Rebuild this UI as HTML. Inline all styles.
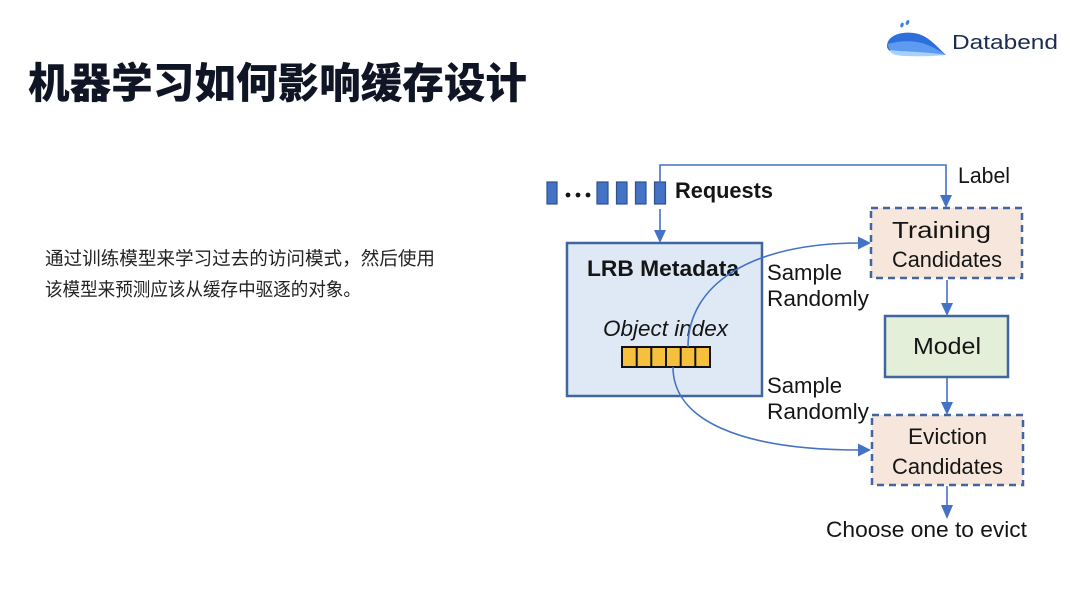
<!DOCTYPE html>
<html>
<head>
<meta charset="utf-8">
<style>
  html, body { margin: 0; padding: 0; background: #ffffff; }
  body { width: 1080px; height: 597px; overflow: hidden; }
  svg { display: block; }
  .d { font-family: "Liberation Sans", Arial, sans-serif; font-size: 22px; fill: #151515; }
</style>
</head>
<body>
<svg width="1080" height="597" viewBox="0 0 1080 597" xmlns="http://www.w3.org/2000/svg">
  <rect x="0" y="0" width="1080" height="597" fill="#ffffff"/>

  <!-- Title -->
  <text x="28" y="98" textLength="499" lengthAdjust="spacingAndGlyphs"
        style="font-family:'Liberation Sans','Noto Sans CJK SC',sans-serif;font-size:42px;font-weight:900;fill:#0f1524;">机器学习如何影响缓存设计</text>

  <!-- Body text -->
  <text x="45" y="265" textLength="390" lengthAdjust="spacingAndGlyphs"
        style="font-family:'Liberation Sans','Noto Sans CJK SC',sans-serif;font-size:18.5px;fill:#222222;">通过训练模型来学习过去的访问模式，然后使用</text>
  <text x="45" y="296" textLength="316" lengthAdjust="spacingAndGlyphs"
        style="font-family:'Liberation Sans','Noto Sans CJK SC',sans-serif;font-size:18.5px;fill:#222222;">该模型来预测应该从缓存中驱逐的对象。</text>

  <!-- Logo -->
  <g>
    <ellipse cx="902" cy="25" rx="1.6" ry="2.4" fill="#3d7fe0" transform="rotate(20 902 25)"/>
    <ellipse cx="907.5" cy="22.5" rx="1.6" ry="2.6" fill="#3d7fe0" transform="rotate(25 907.5 22.5)"/>
    <path d="M887,46 C887,36 900,31 914,33 C928,35 936,46 946,55 C930,54 914,55 899,54 C891,53 887,50 887,46 Z" fill="#2f6fdc"/>
    <path d="M888,44 C898,41 910,40 922,43 C932,46 940,51 946,55 C930,54 913,55 899,54 C891,53 888,49 888,44 Z" fill="#5d9bf0"/>
    <path d="M890,50 C902,52 922,51 946,55 C930,56.5 906,57 896,55 C892,54 890,52 890,50 Z" fill="#a9d0fa"/>
    <text x="952" y="49" textLength="106" lengthAdjust="spacingAndGlyphs"
          style="font-family:'Liberation Sans',Arial,sans-serif;font-size:20px;font-weight:normal;fill:#1c2b50;">Databend</text>
  </g>

  <!-- Requests -->
  <g fill="#4472c4" stroke="#2f528f" stroke-width="1.2">
    <rect x="547" y="182" width="10" height="22"/>
    <rect x="597" y="182" width="11" height="22"/>
    <rect x="616.5" y="182" width="10.5" height="22"/>
    <rect x="635.5" y="182" width="10.5" height="22"/>
    <rect x="654.5" y="182" width="11" height="22"/>
  </g>
  <g fill="#151515">
    <circle cx="568" cy="195" r="2.4"/>
    <circle cx="578" cy="195" r="2.4"/>
    <circle cx="588" cy="195" r="2.4"/>
  </g>
  <text class="d" x="675" y="198" textLength="98" lengthAdjust="spacingAndGlyphs" style="font-weight:bold;">Requests</text>

  <!-- LRB Metadata box -->
  <rect x="567" y="243" width="195" height="153" fill="#dee9f5" stroke="#41659e" stroke-width="2.5"/>
  <text class="d" x="587" y="276" textLength="152" lengthAdjust="spacingAndGlyphs" style="font-weight:bold;">LRB Metadata</text>
  <text class="d" x="603" y="336" textLength="125" lengthAdjust="spacingAndGlyphs" style="font-style:italic;">Object index</text>
  <rect x="622" y="347" width="88" height="20" fill="#f6c03c" stroke="#111" stroke-width="2"/>
  <g stroke="#111" stroke-width="2">
    <line x1="636.7" y1="347" x2="636.7" y2="367"/>
    <line x1="651.3" y1="347" x2="651.3" y2="367"/>
    <line x1="666" y1="347" x2="666" y2="367"/>
    <line x1="680.7" y1="347" x2="680.7" y2="367"/>
    <line x1="695.3" y1="347" x2="695.3" y2="367"/>
  </g>

  <!-- Connectors -->
  <g stroke="#4472c4" stroke-width="1.6" fill="none">
    <polyline points="660,182 660,165 946,165 946,197"/>
    <line x1="660" y1="209" x2="660" y2="232"/>
    <line x1="947" y1="280" x2="947" y2="305"/>
    <line x1="947" y1="378" x2="947" y2="404"/>
    <line x1="947" y1="486" x2="947" y2="507"/>
    <path d="M688,347 C688,285 750,243 860,243"/>
    <path d="M673,367 C673,420 740,450 860,450"/>
  </g>
  <g fill="#4472c4">
    <polygon points="940,195 952,195 946,208"/>
    <polygon points="654,230 666,230 660,243"/>
    <polygon points="941,303 953,303 947,316"/>
    <polygon points="941,402 953,402 947,415"/>
    <polygon points="941,505 953,505 947,519"/>
    <polygon points="858,236.5 858,249.5 871,243"/>
    <polygon points="858,443.5 858,456.5 871,450"/>
  </g>

  <!-- Sample Randomly labels -->
  <text class="d" x="767" y="280" textLength="75" lengthAdjust="spacingAndGlyphs">Sample</text>
  <text class="d" x="767" y="306" textLength="102" lengthAdjust="spacingAndGlyphs">Randomly</text>
  <text class="d" x="767" y="393" textLength="75" lengthAdjust="spacingAndGlyphs">Sample</text>
  <text class="d" x="767" y="419" textLength="102" lengthAdjust="spacingAndGlyphs">Randomly</text>

  <text class="d" x="958" y="183" textLength="52" lengthAdjust="spacingAndGlyphs">Label</text>

  <!-- Training Candidates -->
  <rect x="871" y="208" width="151" height="70" fill="#f7e6dc" stroke="#41659e" stroke-width="2.5" stroke-dasharray="7 5"/>
  <text class="d" x="892" y="238" textLength="99" lengthAdjust="spacingAndGlyphs" style="font-size:23px;">Training</text>
  <text class="d" x="892" y="267" textLength="110" lengthAdjust="spacingAndGlyphs">Candidates</text>

  <!-- Model -->
  <rect x="885" y="316" width="123" height="61" fill="#e3efd9" stroke="#41659e" stroke-width="2.5"/>
  <text class="d" x="913" y="354" textLength="68" lengthAdjust="spacingAndGlyphs" style="font-size:23px;">Model</text>

  <!-- Eviction Candidates -->
  <rect x="872" y="415" width="151" height="70" fill="#f7e6dc" stroke="#41659e" stroke-width="2.5" stroke-dasharray="7 5"/>
  <text class="d" x="908" y="444" textLength="79" lengthAdjust="spacingAndGlyphs">Eviction</text>
  <text class="d" x="892" y="474" textLength="111" lengthAdjust="spacingAndGlyphs">Candidates</text>

  <text class="d" x="826" y="537" textLength="201" lengthAdjust="spacingAndGlyphs">Choose one to evict</text>
</svg>
</body>
</html>
